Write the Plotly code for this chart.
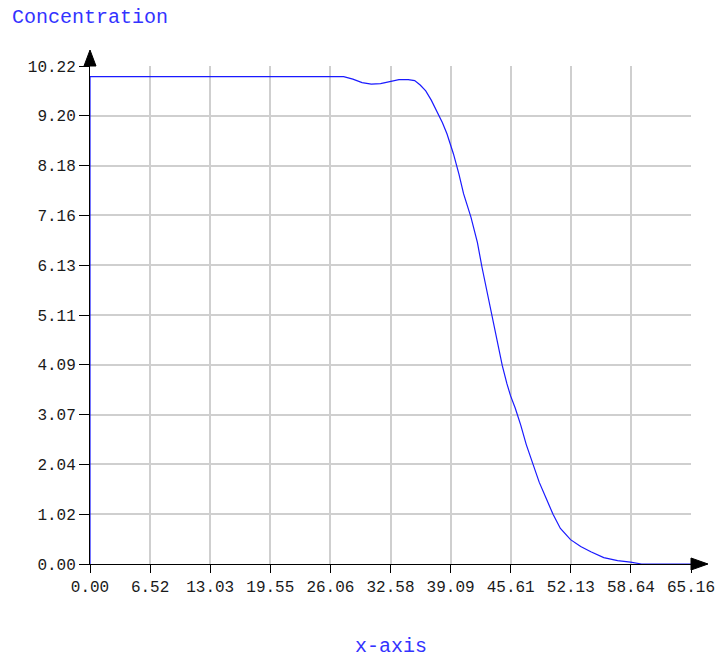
import plotly.graph_objects as go

# ---- data ----
x_vals = [0, 0, 27.5, 28.5, 29.5, 30.5, 31.5, 32.5, 33.5, 34.5, 35.2, 35.8, 36.4, 37.0,
          37.6, 38.2, 38.7, 39.4, 40.0, 40.5, 41.3, 42.0, 42.5, 43.0, 43.6, 44.2, 44.7,
          45.2, 45.6, 46.1, 46.7, 47.3, 48.0, 48.7, 49.5, 50.2, 51.0, 52.1, 53.2, 54.3,
          55.7, 57.2, 58.6, 59.8, 62.0, 65.16]
y_vals = [0, 10.0, 10.0, 9.95, 9.88, 9.85, 9.86, 9.90, 9.94, 9.94, 9.92, 9.83, 9.71, 9.52,
          9.30, 9.06, 8.83, 8.42, 8.00, 7.60, 7.12, 6.60, 6.09, 5.62, 5.07, 4.55, 4.07,
          3.70, 3.45, 3.20, 2.85, 2.45, 2.04, 1.68, 1.33, 1.02, 0.73, 0.50, 0.36, 0.25,
          0.13, 0.07, 0.04, 0.0, 0.0, 0.0]

x_max = 65.16
y_max = 10.22
x_tick_labels = ["0.00", "6.52", "13.03", "19.55", "26.06", "32.58", "39.09",
                 "45.61", "52.13", "58.64", "65.16"]
y_tick_labels = ["0.00", "1.02", "2.04", "3.07", "4.09", "5.11", "6.13",
                 "7.16", "8.18", "9.20", "10.22"]
x_tick_vals = [x_max * i / 10 for i in range(11)]
y_tick_vals = [y_max * i / 10 for i in range(11)]

FONT = "Liberation Mono, Courier New, monospace"
BLUE = "#3333ff"

fig = go.Figure()
fig.add_trace(go.Scatter(x=x_vals, y=y_vals, mode="lines",
                         line=dict(color="#1a1aff", width=1.2),
                         hoverinfo="skip", showlegend=False))

axis_common = dict(showline=True, linecolor="black", linewidth=1,
                   showgrid=True, gridcolor="#cfcfcf", gridwidth=1.5,
                   zeroline=False, ticks="outside", tickcolor="black",
                   tickwidth=1, layer="below traces", automargin=False,
                   tickfont=dict(family=FONT, size=16, color="#1a1a1a"))

fig.update_xaxes(range=[0, x_max], tickvals=x_tick_vals, ticktext=x_tick_labels,
                 ticklen=8, **axis_common)
fig.update_yaxes(range=[0, y_max], tickvals=y_tick_vals, ticktext=y_tick_labels,
                 ticklen=10, **axis_common)

# arrow heads on the axes (paper-anchored so they are not clipped)
fig.add_shape(type="path", xref="paper", yref="paper", xsizemode="pixel", ysizemode="pixel",
              xanchor=0, yanchor=1, path="M -6 0 L 6 0 L 0 16 Z",
              fillcolor="black", line=dict(color="black", width=1), layer="above")
fig.add_shape(type="path", xref="paper", yref="paper", xsizemode="pixel", ysizemode="pixel",
              xanchor=1, yanchor=0, path="M 0 -6 L 0 6 L 17 0 Z",
              fillcolor="black", line=dict(color="black", width=1), layer="above")

fig.add_annotation(text="Concentration", xref="paper", yref="paper",
                   x=-80 / 601, y=1 + 49 / 498, xanchor="left", yanchor="middle",
                   showarrow=False, font=dict(family=FONT, size=20, color=BLUE))
fig.add_annotation(text="x-axis", xref="paper", yref="paper",
                   x=0.5, y=-82 / 498, xanchor="center", yanchor="middle",
                   showarrow=False, font=dict(family=FONT, size=20, color=BLUE))

fig.update_layout(width=716, height=657, autosize=False,
                  margin=dict(l=90, r=25, t=66, b=93),
                  paper_bgcolor="white", plot_bgcolor="white")

fig.write_html("out.html", config={"displayModeBar": False},
               post_script="document.body.style.margin='0px';"
                           "document.body.style.overflow='hidden';")
